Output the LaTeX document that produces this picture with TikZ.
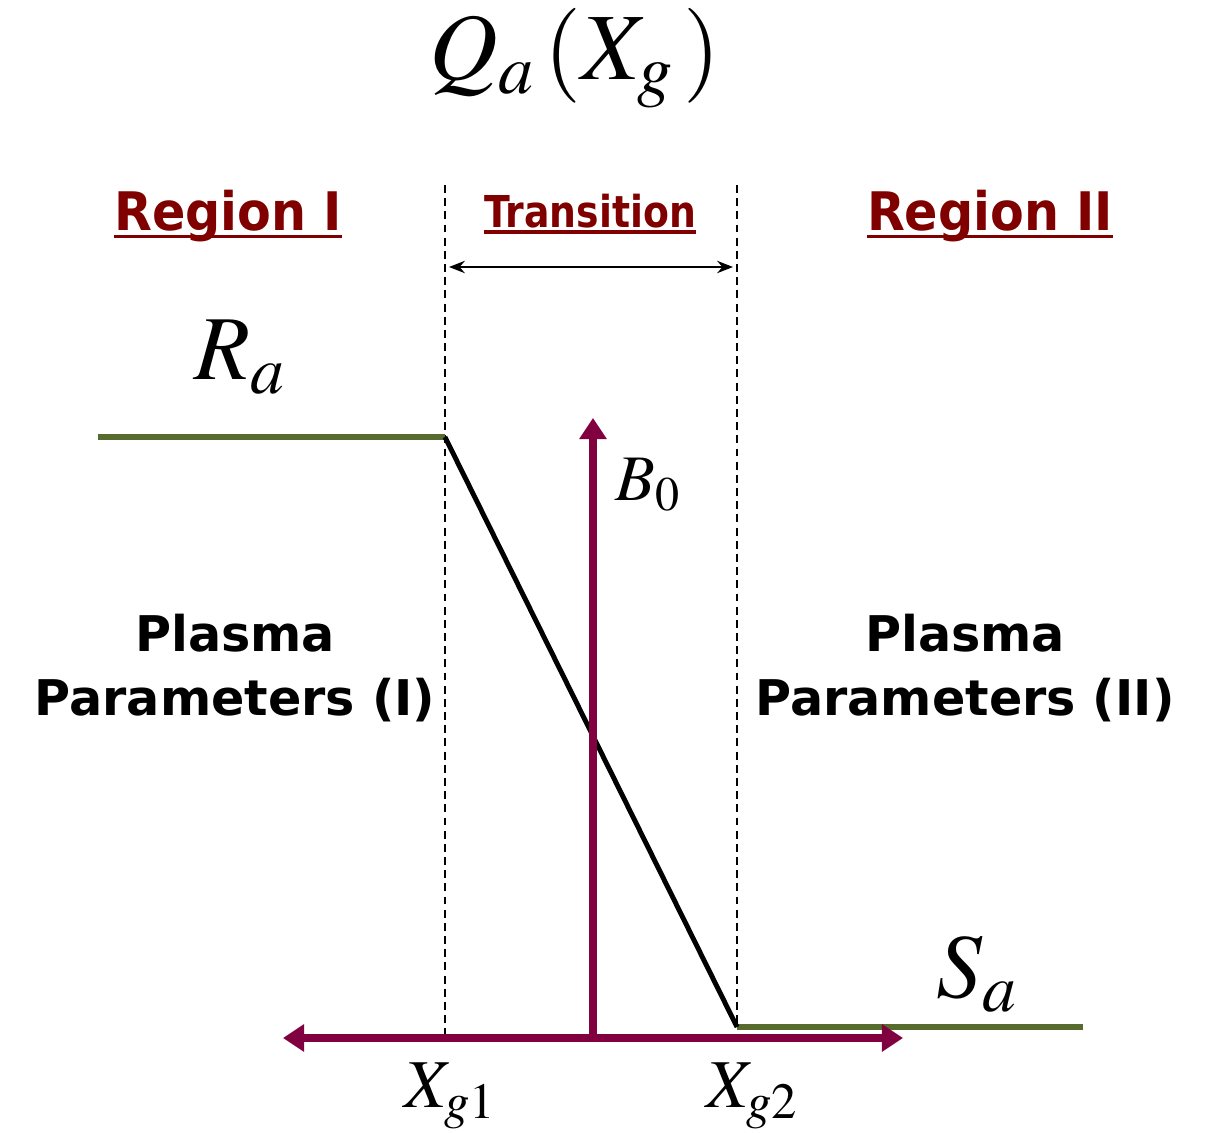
\documentclass[tikz,border=0pt]{standalone}
\usepackage{mathptmx}
\usepackage[no-math]{fontspec}
\newfontfamily\verd{DejaVu Sans}
\usetikzlibrary{arrows.meta}

\definecolor{regred}{RGB}{128,0,0}
\definecolor{axred}{RGB}{128,0,64}
\definecolor{lvlgreen}{RGB}{87,107,47}

\begin{document}
\begin{tikzpicture}[x=0.02cm, y=-0.02cm,
  regtxt/.style={text=regred, inner sep=0pt, text depth=0pt, anchor=base},
  ulline/.style={regred, line width=2.2pt},
  plasma/.style={align=center, font=\verd\bfseries\fontsize{28}{36}\selectfont},
  mathlbl/.style={inner sep=0pt}]

\useasboundingbox (0,0) rectangle (1211,1133);

\coordinate (lvlIa) at (98,437);
\coordinate (lvlIb) at (445,437);
\coordinate (lvlIIa) at (737,1027);
\coordinate (lvlIIb) at (1083,1027);

\coordinate (dashIt) at (445,185);
\coordinate (dashIb) at (445,1036);
\coordinate (dashIIt) at (737,185);
\coordinate (dashIIb) at (737,1027);

\coordinate (trl) at (449,267);
\coordinate (trr) at (733,267);

\coordinate (axl) at (283,1038);
\coordinate (axr) at (903,1038);
\coordinate (org) at (593,1038);
\coordinate (btip) at (593,418);

% dashed region borders
\draw [line width=1.3pt, dash pattern=on 4.5pt off 3pt] (dashIt) -- (dashIb);
\draw [line width=1.3pt, dash pattern=on 4.5pt off 3pt] (dashIIt) -- (dashIIb);

\draw [line width=1.2pt, <->, >={Stealth[length=9pt, width=7pt]}] (trl) -- (trr);

% levels
\draw [line width=3.2pt, lvlgreen] (lvlIa) -- (lvlIb);
\draw [line width=3.2pt, lvlgreen] (lvlIIa) -- (lvlIIb);
\draw [line width=2.8pt] (lvlIb) -- (lvlIIa);

% axes
\draw [line width=4pt, axred, ->, >={Triangle[length=12pt, width=15pt]}] (org) -- (btip);
\draw [line width=4pt, axred, <->, >={Triangle[length=12pt, width=15pt]}] (axl) -- (axr);

\node [mathlbl] (title) at (575,58) {\fontsize{54}{60}\selectfont $Q_a\,(X_g\,)$};
\node [mathlbl] (ra) at (240,357) {\fontsize{52}{60}\selectfont $R_a$};
\node [mathlbl] (sa) at (977,974) {\fontsize{52}{60}\selectfont $S_a$};
\node [mathlbl] (bz) at (648,485) {\fontsize{37}{44}\selectfont $B_0$};
\node [mathlbl] (xgI) at (450,1096) {\fontsize{39}{46}\selectfont $X_{g1}$};
\node [mathlbl] (xgII) at (752,1096) {\fontsize{39}{46}\selectfont $X_{g2}$};

\node [regtxt, font=\verd\bfseries\fontsize{28}{34}\selectfont, yscale=1.08, transform shape] (regI) at (228,230) {Region I};
\node [regtxt, font=\verd\bfseries\fontsize{25}{30}\selectfont, xscale=0.86, transform shape] (trans) at (590,227) {Transition};
\node [regtxt, font=\verd\bfseries\fontsize{28}{34}\selectfont, yscale=1.08, transform shape] (regII) at (990,230) {Region II};

\draw [ulline] ([yshift=-3.5pt]regI.south west) -- ([yshift=-3.5pt]regI.south east);
\draw [ulline] ([yshift=-2.5pt]trans.south west) -- ([yshift=-2.5pt]trans.south east);
\draw [ulline] ([yshift=-3.5pt]regII.south west) -- ([yshift=-3.5pt]regII.south east);

\node [plasma] (parI) at (235,668) {Plasma\\Parameters (I)};
\node [plasma] (parII) at (965,668) {Plasma\\Parameters (II)};

\end{tikzpicture}
\end{document}
